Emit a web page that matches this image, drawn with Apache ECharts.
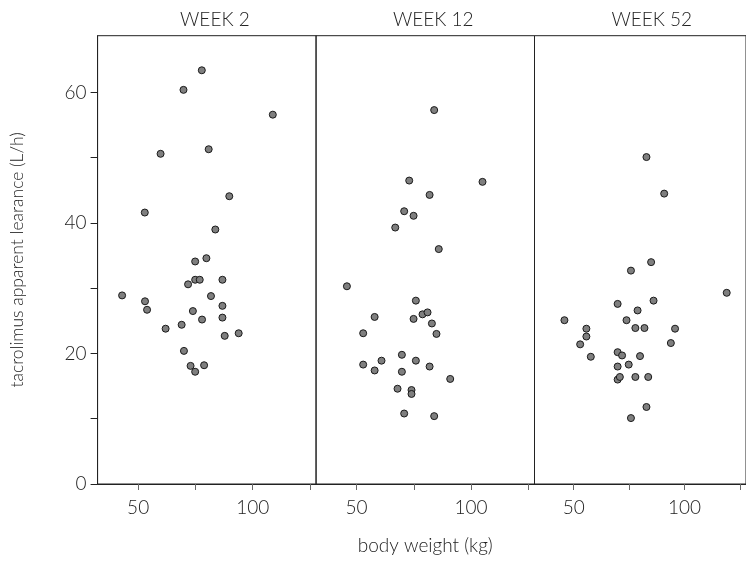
<!DOCTYPE html>
<html><head><meta charset="utf-8">
<script src="https://cdn.jsdelivr.net/npm/echarts@6/dist/echarts.min.js"></script>
<style>html,body{margin:0;padding:0;background:#fff}#c{width:746px;height:562px}</style>
</head><body><div id="c"></div>
<script>
const panelTitles = ['WEEK 2', 'WEEK 12', 'WEEK 52'];
const week2X = [77.8, 69.8, 108.8, 59.8, 80.8, 89.8, 52.9, 83.7, 79.8, 74.9, 74.9, 76.9, 86.8, 71.8, 43.0, 81.8, 53.0, 86.8, 53.9, 73.9, 77.9, 86.8, 62.0, 69.0, 93.9, 87.8, 70.0, 72.9, 78.8, 74.9];
const week2Y = [63.4, 60.4, 56.6, 50.6, 51.3, 44.1, 41.6, 39.0, 34.6, 34.1, 31.3, 31.3, 31.3, 30.6, 28.9, 28.8, 28.0, 27.3, 26.7, 26.5, 25.2, 25.5, 23.8, 24.4, 23.1, 22.7, 20.4, 18.1, 18.2, 17.2];
const week12X = [83.9, 73.0, 105.0, 81.9, 70.8, 74.9, 66.9, 85.9, 45.8, 75.9, 57.9, 74.9, 78.8, 81.0, 82.9, 84.9, 52.9, 69.8, 60.9, 75.9, 52.9, 57.9, 69.8, 81.9, 90.9, 67.9, 74.0, 74.0, 70.8, 83.9];
const week12Y = [57.3, 46.5, 46.3, 44.3, 41.8, 41.1, 39.3, 36.0, 30.3, 28.1, 25.6, 25.3, 26.0, 26.3, 24.6, 23.0, 23.1, 19.8, 18.9, 18.9, 18.3, 17.4, 17.2, 18.0, 16.1, 14.6, 14.4, 13.8, 10.8, 10.4];
const week52X = [82.8, 90.8, 84.9, 75.8, 119.0, 69.8, 86.0, 78.8, 45.8, 73.8, 55.7, 77.8, 81.9, 95.7, 55.7, 93.8, 52.9, 57.7, 69.8, 71.8, 79.9, 74.8, 69.8, 69.8, 70.8, 77.8, 83.6, 82.8, 75.8];
const week52Y = [50.1, 44.5, 34.0, 32.7, 29.3, 27.6, 28.1, 26.6, 25.1, 25.1, 23.8, 23.9, 23.9, 23.8, 22.6, 21.6, 21.4, 19.5, 20.2, 19.7, 19.6, 18.3, 18.0, 16.0, 16.4, 16.4, 16.4, 11.8, 10.1];
const xTickLabels = [50, 100];
const xTickValues = [50, 75, 100, 125];
const yTickLabels = [0, 20, 40, 60];
const yTickValues = [0, 10, 20, 30, 40, 50, 60];
const xName = 'body weight (kg)';
const yName = 'tacrolimus apparent learance (L/h)';

const FONT = 'Lato';
const TXT = '#222';
const xs = [week2X, week12X, week52X];
const ys = [week2Y, week12Y, week52Y];
const lefts = [97.6, 316, 534.5];
const W = 218.5, TOP = 35.7, H = 448.3;

const grids = [], xAxes = [], yAxes = [], series = [], titles = [];
for (let i = 0; i < 3; i++) {
  grids.push({left: lefts[i], top: TOP, width: W, height: H, show: true, borderColor: '#222', borderWidth: 1, containLabel: false});
  xAxes.push({
    type: 'value', gridIndex: i, min: 32.3, max: 127.7,
    splitLine: {show: false},
    axisLine: {show: true, onZero: false, lineStyle: {color: '#222', width: 1}},
    axisTick: {show: true, length: 6, customValues: xTickValues, lineStyle: {color: '#666'}},
    axisLabel: {show: true, customValues: xTickLabels, margin: 14, fontFamily: FONT, fontWeight: 300, fontSize: 19, color: TXT},
    name: i === 1 ? xName : '', nameLocation: 'middle', nameGap: 52,
    nameTextStyle: {fontFamily: FONT, fontWeight: 300, fontSize: 19, color: TXT}
  });
  yAxes.push({
    type: 'value', gridIndex: i, min: 0, max: 68.7,
    splitLine: {show: false},
    axisLine: {show: i === 0, lineStyle: {color: '#222', width: 1}},
    axisTick: {show: i === 0, length: 7, customValues: yTickValues, lineStyle: {color: '#222'}},
    axisLabel: {show: i === 0, customValues: yTickLabels, margin: 11, fontFamily: FONT, fontWeight: 300, fontSize: 19, color: TXT},
    name: i === 0 ? yName : '', nameLocation: 'middle', nameGap: 71, nameRotate: 90,
    nameTextStyle: {fontFamily: FONT, fontWeight: 300, fontSize: 17.5, color: TXT}
  });
  series.push({
    type: 'scatter', xAxisIndex: i, yAxisIndex: i,
    data: xs[i].map((x, k) => [x, ys[i][k]]),
    symbol: 'circle', symbolSize: 7,
    itemStyle: {color: '#7f7f7f', borderColor: '#1a1a1a', borderWidth: 1, opacity: 1},
    emphasis: {disabled: true}
  });
  titles.push({
    text: panelTitles[i], left: lefts[i] + W / 2 + 3, top: 5, textAlign: 'center',
    textStyle: {fontFamily: FONT, fontWeight: 300, fontSize: 19, color: TXT}
  });
}

const chart = echarts.init(document.getElementById('c'), null, {renderer: 'canvas'});
chart.setOption({
  animation: false,
  backgroundColor: '#fff',
  title: titles,
  grid: grids,
  xAxis: xAxes,
  yAxis: yAxes,
  series: series
});
</script></body></html>
